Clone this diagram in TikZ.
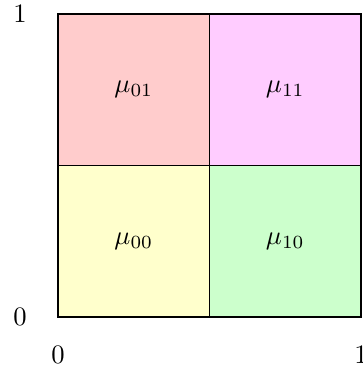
\documentclass[tikz,border=0pt]{standalone}
\definecolor{cpink}{RGB}{255,204,204}
\definecolor{cmag}{RGB}{255,204,255}
\definecolor{cyel}{RGB}{255,255,204}
\definecolor{cgrn}{RGB}{204,255,204}
\begin{document}
\begin{tikzpicture}
\useasboundingbox (-0.766,-0.726) rectangle (4.013,4.185);
\tikzset{cell/.style={draw=black, minimum size=2cm, inner sep=0pt, outer sep=0pt, anchor=south west}}
\node[cell, fill=cyel] (c00) at (0,0) {$\mu_{00}$};
\node[cell, fill=cgrn] (c10) at (2,0) {$\mu_{10}$};
\node[cell, fill=cpink] (c01) at (0,2) {$\mu_{01}$};
\node[cell, fill=cmag] (c11) at (2,2) {$\mu_{11}$};
\node (y1) at (-0.5,4) {$1$};
\node (y0) at (-0.5,0) {$0$};
\node (x0) at (0,-0.5) {$0$};
\node (x1) at (4,-0.5) {$1$};
\end{tikzpicture}
\end{document}
